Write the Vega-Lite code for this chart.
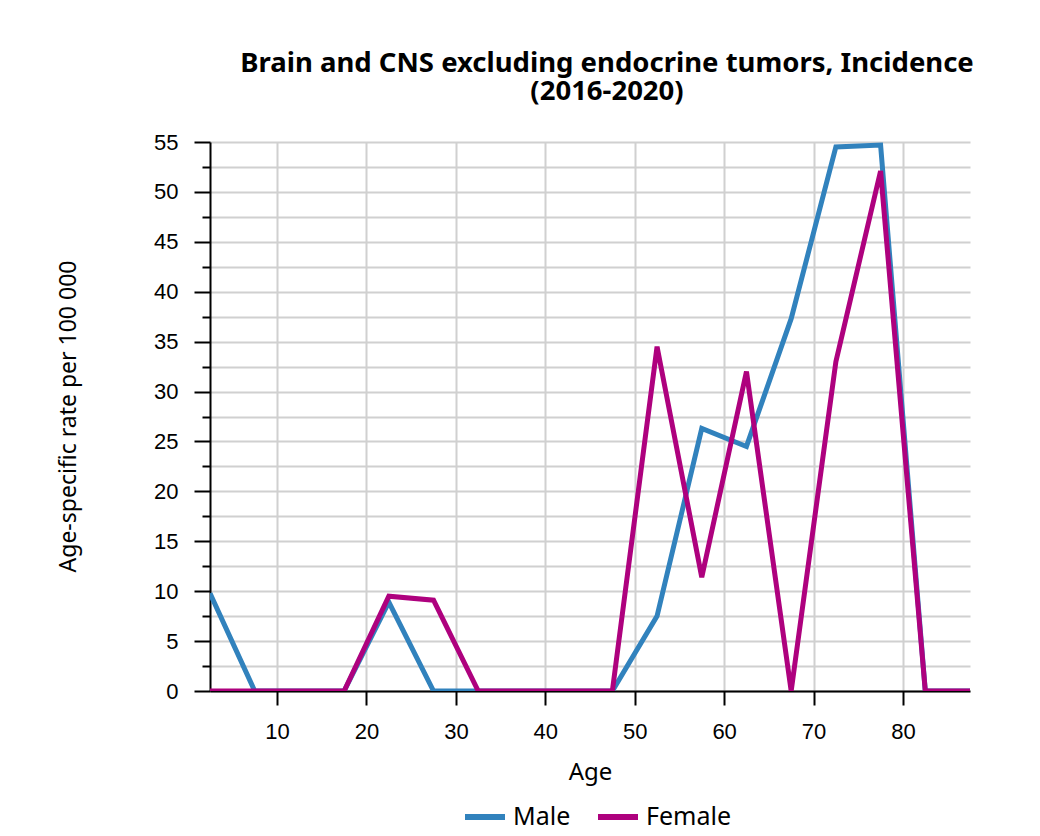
{
  "$schema": "https://vega.github.io/schema/vega-lite/v6.json",
  "autosize": "none",
  "width": 760,
  "height": 549,
  "padding": {"left": 210, "top": 142, "right": 70, "bottom": 145},
  "background": "white",
  "title": {
    "text": ["Brain and CNS excluding endocrine tumors, Incidence", "(2016-2020)"],
    "font": "Noto Sans",
    "fontSize": 27.5,
    "fontWeight": "bold",
    "color": "#000000",
    "anchor": "middle",
    "frame": "group",
    "dx": 17,
    "lineHeight": 28,
    "offset": 26
  },
  "data": {
    "values": [
      {"age": 2.5, "sex": "Male", "rate": 9.8},
      {"age": 7.5, "sex": "Male", "rate": 0},
      {"age": 12.5, "sex": "Male", "rate": 0},
      {"age": 17.5, "sex": "Male", "rate": 0},
      {"age": 22.5, "sex": "Male", "rate": 8.9},
      {"age": 27.5, "sex": "Male", "rate": 0},
      {"age": 32.5, "sex": "Male", "rate": 0},
      {"age": 37.5, "sex": "Male", "rate": 0},
      {"age": 42.5, "sex": "Male", "rate": 0},
      {"age": 47.5, "sex": "Male", "rate": 0},
      {"age": 52.5, "sex": "Male", "rate": 7.5},
      {"age": 57.5, "sex": "Male", "rate": 26.3},
      {"age": 62.5, "sex": "Male", "rate": 24.5},
      {"age": 67.5, "sex": "Male", "rate": 37.3},
      {"age": 72.5, "sex": "Male", "rate": 54.5},
      {"age": 77.5, "sex": "Male", "rate": 54.7},
      {"age": 82.5, "sex": "Male", "rate": 0},
      {"age": 87.5, "sex": "Male", "rate": 0},
      {"age": 2.5, "sex": "Female", "rate": 0},
      {"age": 7.5, "sex": "Female", "rate": 0},
      {"age": 12.5, "sex": "Female", "rate": 0},
      {"age": 17.5, "sex": "Female", "rate": 0},
      {"age": 22.5, "sex": "Female", "rate": 9.5},
      {"age": 27.5, "sex": "Female", "rate": 9.1},
      {"age": 32.5, "sex": "Female", "rate": 0},
      {"age": 37.5, "sex": "Female", "rate": 0},
      {"age": 42.5, "sex": "Female", "rate": 0},
      {"age": 47.5, "sex": "Female", "rate": 0},
      {"age": 52.5, "sex": "Female", "rate": 34.5},
      {"age": 57.5, "sex": "Female", "rate": 11.4},
      {"age": 62.5, "sex": "Female", "rate": 32.0},
      {"age": 67.5, "sex": "Female", "rate": 0},
      {"age": 72.5, "sex": "Female", "rate": 33.0},
      {"age": 77.5, "sex": "Female", "rate": 52.1},
      {"age": 82.5, "sex": "Female", "rate": 0},
      {"age": 87.5, "sex": "Female", "rate": 0}
    ]
  },
  "mark": {"type": "line", "strokeWidth": 5, "clip": true},
  "encoding": {
    "x": {
      "field": "age",
      "type": "quantitative",
      "scale": {"domain": [2.5, 87.5], "nice": false, "zero": false},
      "axis": {
        "title": "Age",
        "values": [10, 20, 30, 40, 50, 60, 70, 80],
        "grid": true,
        "gridColor": "#d0d0d0",
        "gridWidth": 2,
        "domainColor": "#000000",
        "domainWidth": 2,
        "tickColor": "#000000",
        "tickWidth": 2,
        "tickSize": 14,
        "labelFont": "Liberation Sans",
        "labelFontSize": 22,
        "labelColor": "#000000",
        "labelPadding": 16,
        "titleFont": "Noto Sans",
        "titleFontSize": 24,
        "titleFontWeight": "normal",
        "titleColor": "#000000",
        "titleY": 81,
        "titleBaseline": "middle"
      }
    },
    "y": {
      "field": "rate",
      "type": "quantitative",
      "scale": {"domain": [0, 55], "nice": false},
      "axis": {
        "title": "Age-specific rate per 100 000",
        "values": [0, 2.5, 5, 7.5, 10, 12.5, 15, 17.5, 20, 22.5, 25, 27.5, 30, 32.5, 35, 37.5, 40, 42.5, 45, 47.5, 50, 52.5, 55],
        "labelExpr": "datum.value % 5 === 0 ? datum.label : ''",
        "grid": true,
        "gridColor": "#d0d0d0",
        "gridWidth": 2,
        "domainColor": "#000000",
        "domainWidth": 2,
        "tickColor": "#000000",
        "tickWidth": 2,
        "tickSize": {"condition": {"test": "datum.value % 5 !== 0", "value": 8}, "value": 16},
        "labelFont": "Liberation Sans",
        "labelFontSize": 22,
        "labelColor": "#000000",
        "labelPadding": 16,
        "labelBaseline": "middle",
        "titleFont": "Noto Sans",
        "titleFontSize": 23,
        "titleFontWeight": "normal",
        "titleColor": "#000000",
        "titleAngle": -90,
        "titleX": -142,
        "titleY": 274,
        "titleAlign": "center",
        "titleBaseline": "middle"
      }
    },
    "color": {
      "field": "sex",
      "type": "nominal",
      "sort": ["Male", "Female"],
      "scale": {"domain": ["Male", "Female"], "range": ["#3182bd", "#ae017e"]},
      "legend": {
        "title": null,
        "orient": "none",
        "direction": "horizontal",
        "legendX": 252,
        "legendY": 652,
        "symbolType": "stroke",
        "symbolSize": 1600,
        "symbolStrokeWidth": 6,
        "labelFont": "Noto Sans",
        "labelFontSize": 25,
        "labelColor": "#000000",
        "labelOffset": 5,
        "columnPadding": 15
      }
    }
  },
  "config": {
    "view": {"stroke": null}
  }
}
